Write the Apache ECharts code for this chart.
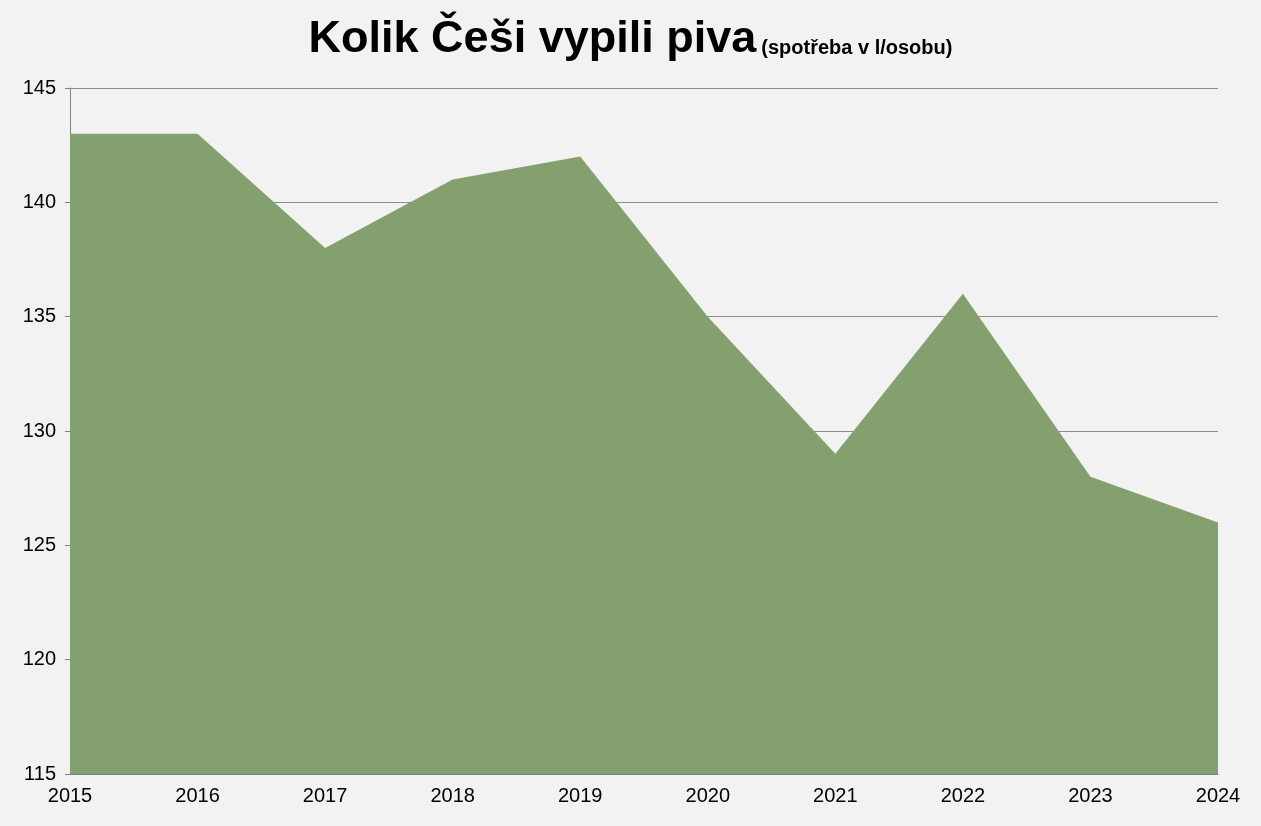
<!DOCTYPE html>
<html><head><meta charset="utf-8">
<script src="https://cdn.jsdelivr.net/npm/echarts@6/dist/echarts.min.js"></script>
<style>html,body{margin:0;padding:0;background:#f2f2f2}#c{width:1261px;height:826px}</style>
</head><body><div id="c"></div>
<script>
const years = ['2015','2016','2017','2018','2019','2020','2021','2022','2023','2024'];
const consumption = [143,143,138,141,142,135,129,136,128,126];
const chart = echarts.init(document.getElementById('c'));
chart.setOption({
  backgroundColor:'#f2f2f2',
  animation:false,
  title:{
    text:'{a|Kolik Češi vypili piva} {b|(spotřeba v l/osobu)}',
    left:'center', top:12,
    textStyle:{rich:{
      a:{fontFamily:'Liberation Sans',fontSize:45,color:'#000'},
      b:{fontFamily:'Liberation Sans',fontSize:20,color:'#000',verticalAlign:'bottom',padding:[0,0,4,0]}
    }}
  },
  grid:{left:70,right:43,top:88,bottom:52},
  xAxis:{type:'category',data:years,boundaryGap:false,
    axisLine:{lineStyle:{color:'#808080'}},
    axisTick:{show:false},
    axisLabel:{fontFamily:'Liberation Sans',fontSize:20,color:'#000',margin:12}},
  yAxis:{type:'value',min:115,max:145,interval:5,
    axisLine:{show:true,lineStyle:{color:'#808080'}},
    axisTick:{show:true,length:5,lineStyle:{color:'#808080'}},
    splitLine:{lineStyle:{color:'#8c8c8c'}},
    axisLabel:{fontFamily:'Liberation Sans',fontSize:20,color:'#000',margin:14}},
  series:[{type:'line',data:consumption,symbol:'none',
    lineStyle:{width:0},
    areaStyle:{color:'#84a06e',opacity:1}}]
});
</script></body></html>
